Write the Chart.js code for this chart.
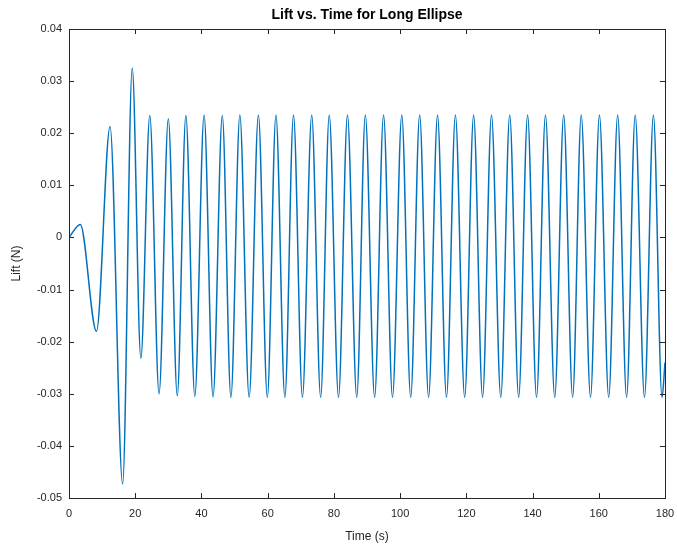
<!DOCTYPE html>
<html>
<head>
<meta charset="utf-8">
<script src="https://cdn.jsdelivr.net/npm/chart.js@4.4.1/dist/chart.umd.min.js"></script>
<style>
  html, body { margin: 0; padding: 0; background: #fff; }
  #wrap { width: 677px; height: 546px; }
</style>
</head>
<body>
<div id="wrap"><canvas id="liftChart" width="677" height="546"></canvas></div>
<script>
// time (s) at each turning point
const times = [
  0, 3.4, 8.3, 12.4, 16.2, 19.1, 21.7, 24.4, 27.2, 30.0, 32.7, 35.3,
  38.0, 40.8, 43.5, 46.3, 48.9, 51.6, 54.4, 57.2, 59.9, 62.5, 65.2, 67.8,
  70.5, 73.3, 76.0, 78.6, 81.4, 84.1, 86.9, 89.5, 92.3, 95.0, 97.7, 100.5,
  103.2, 105.9, 108.6, 111.3, 114.0, 116.7, 119.5, 122.2, 124.9, 127.6, 130.4, 133.1,
  135.8, 138.5, 141.2, 143.9, 146.7, 149.4, 152.1, 154.7, 157.5, 160.2, 163.0, 165.7,
  168.4, 171.0, 173.8, 176.5, 179.1, 180
];

// lift (N) at those times
const lift = [
  0, 0.0025, -0.0180, 0.0213, -0.0473, 0.0325, -0.0232, 0.0234, -0.0300, 0.0228, -0.0304, 0.0234,
  -0.0305, 0.0235, -0.0306, 0.0234, -0.0307, 0.0235, -0.0307, 0.0235, -0.0307, 0.0235, -0.0307, 0.0235,
  -0.0307, 0.0235, -0.0307, 0.0235, -0.0307, 0.0235, -0.0307, 0.0235, -0.0307, 0.0235, -0.0307, 0.0235,
  -0.0307, 0.0235, -0.0307, 0.0235, -0.0307, 0.0235, -0.0307, 0.0235, -0.0307, 0.0235, -0.0307, 0.0235,
  -0.0307, 0.0235, -0.0307, 0.0235, -0.0307, 0.0235, -0.0307, 0.0235, -0.0307, 0.0235, -0.0307, 0.0235,
  -0.0307, 0.0235, -0.0307, 0.0235, -0.0307, -0.0240
];

const xTicks = [0, 20, 40, 60, 80, 100, 120, 140, 160, 180];
const yTicks = [-0.05, -0.04, -0.03, -0.02, -0.01, 0, 0.01, 0.02, 0.03, 0.04];
const yTickLabels = ['-0.05', '-0.04', '-0.03', '-0.02', '-0.01', '0', '0.01', '0.02', '0.03', '0.04'];

const axisColor = '#262626';
const font = "'Liberation Sans', Arial, Helvetica, sans-serif";

// matlab style box with inward ticks on all four sides
const boxPlugin = {
  id: 'box',
  afterDatasetsDraw(chart) {
    const { ctx, chartArea: a, scales } = chart;
    const len = 5;
    ctx.save();
    ctx.strokeStyle = axisColor;
    ctx.lineWidth = 1;
    ctx.beginPath();
    scales.x.ticks.forEach(t => {
      const px = Math.round(scales.x.getPixelForValue(t.value)) + 0.5;
      ctx.moveTo(px, a.bottom); ctx.lineTo(px, a.bottom - len);
      ctx.moveTo(px, a.top); ctx.lineTo(px, a.top + len);
    });
    scales.y.ticks.forEach(t => {
      const py = Math.round(scales.y.getPixelForValue(t.value)) + 0.5;
      ctx.moveTo(a.left, py); ctx.lineTo(a.left + len, py);
      ctx.moveTo(a.right, py); ctx.lineTo(a.right - len, py);
    });
    ctx.stroke();
    ctx.strokeRect(Math.round(a.left) + 0.5, Math.round(a.top) + 0.5,
      Math.round(a.right - a.left), Math.round(a.bottom - a.top));
    ctx.restore();
  }
};

new Chart(document.getElementById('liftChart').getContext('2d'), {
  type: 'line',
  data: {
    datasets: [{
      label: 'Lift',
      data: times.map((t, i) => ({ x: t, y: lift[i] })),
      borderColor: '#0072BD',
      borderWidth: 1.5,
      pointRadius: 0,
      fill: false,
      cubicInterpolationMode: 'monotone'
    }]
  },
  options: {
    responsive: false,
    animation: false,
    layout: { padding: { left: 9, right: 12, top: 0, bottom: 2 } },
    plugins: {
      legend: { display: false },
      tooltip: { enabled: false },
      title: {
        display: true,
        fullSize: false,
        text: 'Lift vs. Time for Long Ellipse',
        color: '#000',
        font: { family: font, size: 14, weight: 'bold' },
        padding: { top: 7, bottom: 5.2 }
      }
    },
    scales: {
      x: {
        type: 'linear',
        min: 0,
        max: 180,
        afterBuildTicks: s => { s.ticks = xTicks.map(v => ({ value: v })); },
        afterFit: s => { s.height = 46; s.paddingLeft = 0; s.paddingRight = 0; },
        grid: { display: false, drawTicks: false },
        border: { display: false },
        ticks: {
          color: axisColor,
          font: { family: font, size: 11 },
          padding: 9,
          maxRotation: 0,
          callback: v => String(v)
        },
        title: {
          display: true,
          text: 'Time (s)',
          color: axisColor,
          font: { family: font, size: 12 },
          padding: { top: 4, bottom: 0 }
        }
      },
      y: {
        min: -0.05,
        max: 0.04,
        afterBuildTicks: s => { s.ticks = yTicks.map(v => ({ value: v })); },
        afterFit: s => { s.width = 60; },
        grid: { display: false, drawTicks: false },
        border: { display: false },
        ticks: {
          color: axisColor,
          font: { family: font, size: 11 },
          padding: 7,
          callback: (v, i) => yTickLabels[i]
        },
        title: {
          display: true,
          text: 'Lift (N)',
          color: axisColor,
          font: { family: font, size: 12 },
          padding: { top: 0, bottom: 4 }
        }
      }
    }
  },
  plugins: [boxPlugin]
});
</script>
</body>
</html>
